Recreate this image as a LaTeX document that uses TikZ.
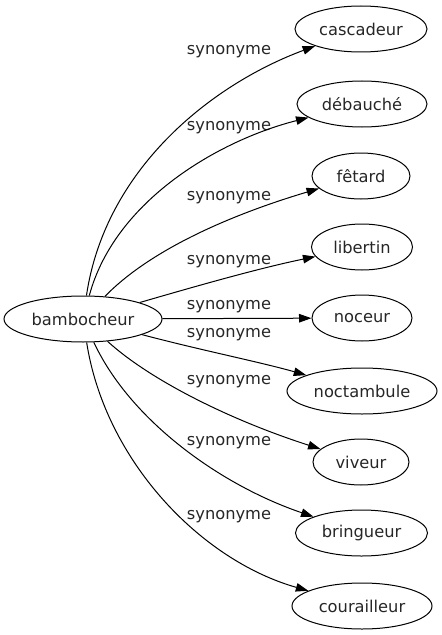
\documentclass[tikz,border=0pt]{standalone}
\usepackage{fontspec}
\setmainfont{DejaVu Sans}
\usetikzlibrary{shapes.geometric,arrows.meta}
\begin{document}
\begin{tikzpicture}[x=0.75pt,y=-0.75pt,
  font=\fontsize{12.2}{14}\selectfont,
  word/.style={draw=black, line width=0.75pt, ellipse, inner sep=0pt, minimum height=46*0.75pt, text=black!85},
  lbl/.style={inner sep=0pt, text=black!85},
  syn/.style={draw=black, line width=0.75pt, -{Triangle[length=12.5*0.75pt, width=8.5*0.75pt]}}]
\useasboundingbox (0,0) rectangle (442,635);
\node[word, minimum width=158*0.75pt] (b) at (83,319) {bambocheur};
\node[word, minimum width=132*0.75pt] (n1) at (361,29) {cascadeur};
\node[word, minimum width=130*0.75pt] (n2) at (362,104) {débauché};
\node[word, minimum width=98*0.75pt] (n3) at (361,176) {fêtard};
\node[word, minimum width=101*0.75pt] (n4) at (362,247) {libertin};
\node[word, minimum width=100*0.75pt] (n5) at (362,318) {noceur};
\node[word, minimum width=150*0.75pt] (n6) at (362,391) {noctambule};
\node[word, minimum width=96*0.75pt] (n7) at (361,462) {viveur};
\node[word, minimum width=132*0.75pt] (n8) at (361.5,533) {bringueur};
\node[word, minimum width=140*0.75pt] (n9) at (362,606) {courailleur};
\node[lbl] (l1) at (229,52) {synonyme};
\node[lbl] (l2) at (229,128) {synonyme};
\node[lbl] (l3) at (229,198) {synonyme};
\node[lbl] (l4) at (229,262) {synonyme};
\node[lbl] (l5) at (229,307) {synonyme};
\node[lbl] (l6) at (229,335) {synonyme};
\node[lbl] (l7) at (229,382) {synonyme};
\node[lbl] (l8) at (229,443) {synonyme};
\node[lbl] (l9) at (229,517) {synonyme};
\draw[syn] (b) .. controls (105,170) and (210,85) .. (n1);
\draw[syn] (b) .. controls (115,200) and (220,140) .. (n2);
\draw[syn] (b) .. controls (150,250) and (230,215) .. (n3);
\draw[syn] (b) .. controls (200,285) and (260,268) .. (n4);
\draw[syn] (b) -- (n5);
\draw[syn] (b) .. controls (200,350) and (260,362) .. (n6);
\draw[syn] (b) .. controls (150,380) and (230,420) .. (n7);
\draw[syn] (b) .. controls (130,420) and (220,485) .. (n8);
\draw[syn] (b) .. controls (105,460) and (200,560) .. (n9);
\end{tikzpicture}
\end{document}
